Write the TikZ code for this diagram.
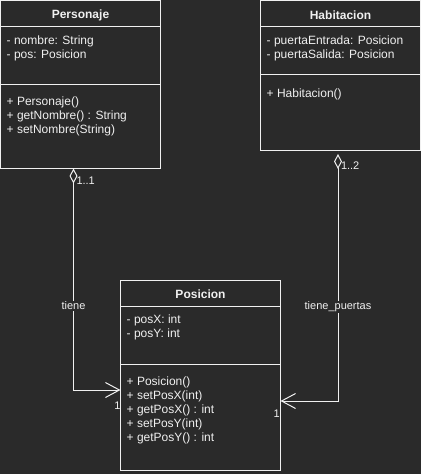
\documentclass[tikz,border=0pt]{standalone}
\usepackage{fontspec}
\setmainfont{Liberation Sans}
\usetikzlibrary{arrows.meta,positioning}
\definecolor{canvas}{HTML}{2A2A2A}
\definecolor{ink}{HTML}{F0F0F0}

\begin{document}
\begin{tikzpicture}[
    x=1pt, y=-1pt,
    % Define styles for the class boxes and their texts
    classbox/.style={draw=ink, line width=1pt, anchor=north west, inner sep=0pt, outer sep=0pt, minimum width=160pt},
    classname/.style={text=ink, font=\fontsize{12}{14}\selectfont\bfseries, inner sep=0pt},
    members/.style={text=ink, font=\fontsize{12}{14}\selectfont, align=left, anchor=north west, inner sep=0pt, execute at begin node=\strut},
    divider/.style={draw=ink, line width=1pt},
    assoc/.style={draw=ink, line width=1pt, {Diamond[open, length=15pt, width=8pt]}-{Straight Barb[length=14pt, width=15pt]}},
    role/.style={text=ink, font=\fontsize{11}{13}\selectfont, fill=canvas, inner sep=1pt},
    mult/.style={text=ink, font=\fontsize{11}{13}\selectfont, inner sep=0pt}
]

% Background of the whole diagram
\path[use as bounding box, fill=canvas] (0,0) rectangle (421,474);

% Class Personaje
\node[classbox, minimum height=168pt] (personaje) at (0.5,0.5) {};
\node[classname] (personajeName) at ([yshift=-14.5pt]personaje.north) {Personaje};
\draw[divider] ([yshift=-26pt]personaje.north west) -- ([yshift=-26pt]personaje.north east);
\draw[divider] ([yshift=-84pt]personaje.north west) -- ([yshift=-84pt]personaje.north east);
\node[members] (personajeAttr) at ([xshift=6pt, yshift=-35.5pt]personaje.north west) {- nombre: String\\- pos: Posicion};
\node[members] (personajeOps) at ([xshift=6pt, yshift=-96.5pt]personaje.north west) {+ Personaje()\\+ getNombre() : String\\+ setNombre(String)};

% Class Habitacion
\node[classbox, minimum height=150pt] (habitacion) at (260.5,0.5) {};
\node[classname] (habitacionName) at ([yshift=-14.5pt]habitacion.north) {Habitacion};
\draw[divider] ([yshift=-26pt]habitacion.north west) -- ([yshift=-26pt]habitacion.north east);
\draw[divider] ([yshift=-74pt]habitacion.north west) -- ([yshift=-74pt]habitacion.north east);
\node[members] (habitacionAttr) at ([xshift=6pt, yshift=-35.5pt]habitacion.north west) {- puertaEntrada: Posicion\\- puertaSalida: Posicion};
\node[members] (habitacionOps) at ([xshift=6pt, yshift=-86.5pt]habitacion.north west) {+ Habitacion()};

% Class Posicion
\node[classbox, minimum height=190pt] (posicion) at (120.5,280.5) {};
\node[classname] (posicionName) at ([yshift=-14pt]posicion.north) {Posicion};
\draw[divider] ([yshift=-26pt]posicion.north west) -- ([yshift=-26pt]posicion.north east);
\draw[divider] ([yshift=-84pt]posicion.north west) -- ([yshift=-84pt]posicion.north east);
\node[members] (posicionAttr) at ([xshift=6pt, yshift=-34.5pt]posicion.north west) {- posX: int\\- posY: int};
\node[members] (posicionOps) at ([xshift=6pt, yshift=-96.5pt]posicion.north west) {+ Posicion()\\+ setPosX(int)\\+ getPosX() : int\\+ setPosY(int)\\+ getPosY() : int};

% Associations to Posicion
\draw[assoc] ([xshift=-7pt]personaje.south) |- ([yshift=-14.5pt]posicion.west)
    node[pos=0.31, role] (tieneLbl) {tiene}
    node[pos=0, mult, anchor=west, xshift=2.5pt, yshift=-12.5pt] (personajeMult) {1..1}
    node[pos=1, mult, anchor=east, xshift=0.5pt, yshift=-15.5pt] (posicionMultA) {1};
\draw[assoc] ([xshift=-2.5pt, yshift=-3.5pt]habitacion.south) |- ([yshift=-25.5pt]posicion.east)
    node[pos=0.31, role] (tienePuertasLbl) {tiene\_puertas}
    node[pos=0, mult, anchor=west, xshift=2.5pt, yshift=-12pt] (habitacionMult) {1..2}
    node[pos=1, mult, xshift=-3.8pt, yshift=-13pt] (posicionMultB) {1};

\end{tikzpicture}
\end{document}
